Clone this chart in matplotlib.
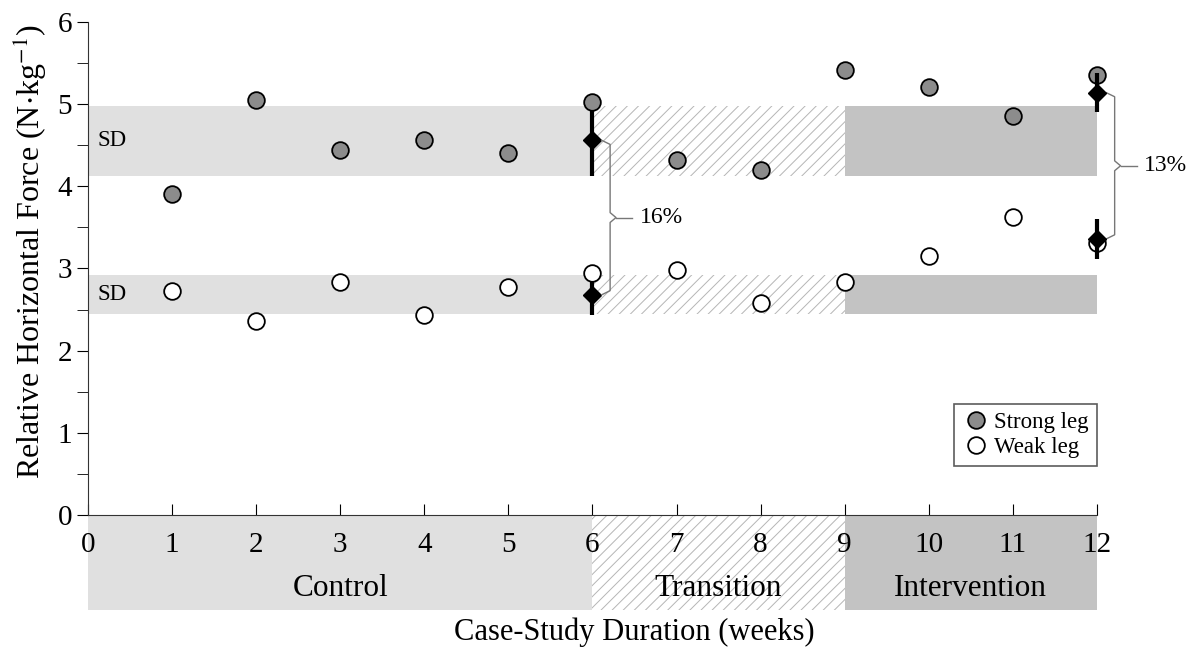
import matplotlib
matplotlib.use('Agg')
import matplotlib.pyplot as plt
from matplotlib.ticker import MultipleLocator

plt.rcParams['font.family'] = ['Liberation Serif', 'DejaVu Serif']
plt.rcParams['mathtext.fontset'] = 'stix'
plt.rcParams['hatch.linewidth'] = 0.7

# data
weeks = [1, 2, 3, 4, 5, 6, 7, 8, 9, 10, 11, 12]
strong = [3.91, 5.05, 4.44, 4.56, 4.41, 5.03, 4.32, 4.20, 5.42, 5.21, 4.86, 5.35]
weak = [2.73, 2.36, 2.84, 2.43, 2.77, 2.95, 2.98, 2.58, 2.84, 3.15, 3.63, 3.31]

mean_weeks = [6, 12]
strong_mean = [4.56, 5.14]
strong_sd = [0.43, 0.24]
weak_mean = [2.68, 3.36]
weak_sd = [0.24, 0.24]
diffs = ['16%', '13%']

strong_band = (4.13, 4.98)
weak_band = (2.45, 2.92)

phases = ['Control', 'Transition', 'Intervention']
phase_start = [0, 6, 9]
phase_end = [6, 9, 12]
phase_color = ['#e0e0e0', 'white', '#c3c3c3']
phase_hatch = [None, '///', None]

fig = plt.figure(figsize=(11.88, 6.52), dpi=100)
ax = fig.add_axes([0.074, 0.2101, 0.8494, 0.7562])
bx = fig.add_axes([0.074, 0.0644, 0.8494, 0.1457])
bx.set_zorder(0)
ax.set_zorder(1)

# phase bands under the axis
for s, e, c, h in zip(phase_start, phase_end, phase_color, phase_hatch):
    bx.axvspan(s, e, facecolor=c, edgecolor='#b5b5b5' if h else c, hatch=h, lw=0)
for name, s, e in zip(phases, phase_start, phase_end):
    bx.text((s + e) / 2, 0.23, name, ha='center', va='center', fontsize=22.5)
bx.set_xlim(0, 12)
bx.set_ylim(0, 1)
bx.axis('off')

# SD bands
for lo, hi in [strong_band, weak_band]:
    for s, e, c, h in zip(phase_start, phase_end, phase_color, phase_hatch):
        ax.fill_between([s, e], lo, hi, facecolor=c, edgecolor='#b5b5b5' if h else c,
                        hatch=h, lw=0, zorder=1)
    ax.text(0.11, (lo + hi) / 2, 'SD', ha='left', va='center', fontsize=16.5, zorder=2)

# mean +- sd
for i, wk in enumerate(mean_weeks):
    z = 2 if wk == 6 else 5
    for m, sd in [(strong_mean[i], strong_sd[i]), (weak_mean[i], weak_sd[i])]:
        eb = ax.errorbar(wk, m, yerr=sd, fmt='D', color='black',
                         ms=9.5, elinewidth=3, capsize=0, zorder=z)
        for art in eb.get_children():
            art.set_clip_on(False)

ax.plot(weeks, strong, 'o', ms=12, mfc='#8c8c8c', mec='black', mew=1.3,
        ls='none', label='Strong leg', zorder=3, clip_on=False)
ax.plot(weeks, weak, 'o', ms=12, mfc='white', mec='black', mew=1.3,
        ls='none', label='Weak leg', zorder=3, clip_on=False)

# braces
for i, wk in enumerate(mean_weeks):
    top, bot = strong_mean[i], weak_mean[i]
    mid = (top + bot) / 2
    x0, x1, x2, x3 = wk + 0.11, wk + 0.21, wk + 0.28, wk + 0.47
    ax.plot([x0, x1, x1, x2, x1, x1, x0],
            [top, top - 0.05, mid + 0.06, mid, mid - 0.06, bot + 0.05, bot],
            color='#777777', lw=1, zorder=4, clip_on=False)
    ax.plot([x2, x3], [mid, mid], color='#777777', lw=1, zorder=4, clip_on=False)
    ax.text(x3 + 0.09, mid, diffs[i], ha='left', va='center', fontsize=17)

ax.set_xlim(0, 12)
ax.set_ylim(0, 6)
ax.set_xticks(range(0, 13))
ax.yaxis.set_major_locator(MultipleLocator(1))
ax.yaxis.set_minor_locator(MultipleLocator(0.5))
ax.tick_params(axis='x', direction='in', length=8, labelsize=21, pad=12)
ax.tick_params(axis='y', which='major', direction='out', length=8, labelsize=21)
ax.tick_params(axis='y', which='minor', direction='out', length=8)
for sp in ['top', 'right']:
    ax.spines[sp].set_visible(False)
ax.spines['left'].set_color('#333333')
ax.spines['bottom'].set_color('#333333')
ax.patch.set_alpha(0)

fig.text(30 / 1188, 1 - 252 / 652, 'Relative Horizontal Force (N$\\cdot$kg$^{-1}$)',
         rotation=90, ha='center', va='center', fontsize=23)
fig.text(634 / 1188, 1 - 632 / 652, 'Case-Study Duration (weeks)',
         ha='center', va='center', fontsize=22)

leg = ax.legend(loc='lower right', bbox_to_anchor=(1.0, 0.1), borderaxespad=0,
                fontsize=16.5, fancybox=False, edgecolor='#333333', handletextpad=0.2,
                handlelength=1.2, borderpad=0.35, labelspacing=0.15)
leg.get_frame().set_linewidth(1.2)

fig.savefig('out.png', dpi=100)
